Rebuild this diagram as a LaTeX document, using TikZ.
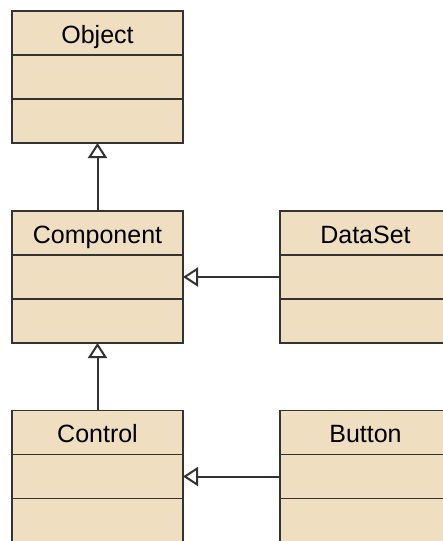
\documentclass[tikz,border=0pt]{standalone}
\usepackage{fontspec}
\setmainfont{Liberation Sans}
\usepackage{tikz}
\usetikzlibrary{positioning,arrows.meta}

\definecolor{classfill}{RGB}{239,223,192}
\definecolor{linegray}{RGB}{51,51,51}

\begin{document}
\begin{tikzpicture}[
        x=1pt,y=-1pt,
        classbox/.style={rectangle,draw=linegray,fill=classfill,line width=1.8pt,
            minimum width=171pt,minimum height=44pt,inner sep=0pt,outer sep=0pt,
            text height=22pt,text depth=1.4pt,
            font=\fontsize{25}{28}\selectfont},
        inherit/.style={-{Triangle[open,length=15pt,width=19pt]},line width=2pt,draw=linegray}
    ]

    \clip (0,0) rectangle (443,541);
    \fill[white] (0,0) rectangle (443,541);

    % left column
    \node[classbox,anchor=north west] (object) at (12,11) {Object};
    \node[classbox,below=0pt of object] (object-a) {};
    \node[classbox,below=0pt of object-a] (object-b) {};

    \node[classbox,anchor=north west] (component) at (12,211) {Component};
    \node[classbox,below=0pt of component] (component-a) {};
    \node[classbox,below=0pt of component-a] (component-b) {};

    \node[classbox,anchor=north west] (control) at (12,410.5) {Control};
    \node[classbox,below=0pt of control] (control-a) {};
    \node[classbox,below=0pt of control-a] (control-b) {};

    % right column
    \node[classbox,anchor=north west] (dataset) at (280,211) {DataSet};
    \node[classbox,below=0pt of dataset] (dataset-a) {};
    \node[classbox,below=0pt of dataset-a] (dataset-b) {};

    \node[classbox,anchor=north west] (button) at (280,410.5) {Button};
    \node[classbox,below=0pt of button] (button-a) {};
    \node[classbox,below=0pt of button-a] (button-b) {};

    \draw[inherit] (component.north) -- (object-b.south);
    \draw[inherit] (control.north) -- (component-b.south);
    \draw[inherit] (dataset-a.west) -- (component-a.east);
    \draw[inherit] (button-a.west) -- (control-a.east);

\end{tikzpicture}
\end{document}
